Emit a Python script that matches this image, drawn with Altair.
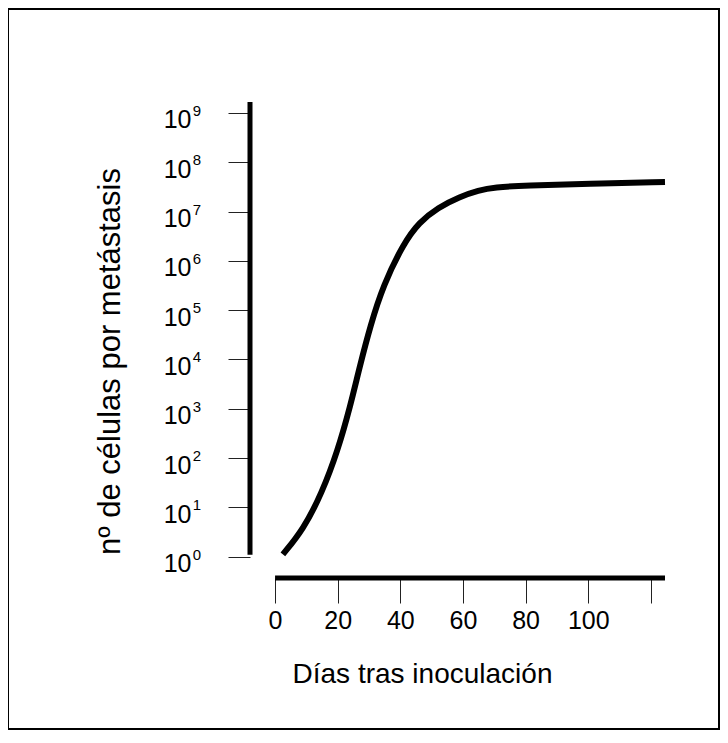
import altair as alt
import pandas as pd

# ---- data ----
days = [2.5, 9, 15, 20, 24, 27, 30.5, 34.5, 41, 46, 52, 59, 65, 70, 80, 100, 124.5]
log_cells = [0.05, 0.55, 1.3, 2.15, 3.05, 3.85, 4.7, 5.5, 6.35, 6.78, 7.08, 7.3, 7.43, 7.49, 7.53, 7.56, 7.6]

x_ticks = [0, 20, 40, 60, 80, 100, 120]
x_tick_labels = ["0", "20", "40", "60", "80", "100", ""]
y_exponents = [0, 1, 2, 3, 4, 5, 6, 7, 8, 9]
y_tick_base = "10"
y_exponent_labels = ["0", "1", "2", "3", "4", "5", "6", "7", "8", "9"]

x_domain = [-8, 124.5]
y_domain_exp = [-0.43, 9.22]
x_axis_line = [0, 124.5]
y_axis_line_exp = [0.04, 9.22]

x_title = "Días tras inoculación"
y_title = "nº de células por metástasis"

FONT = "Liberation Sans"

curve = pd.DataFrame({"day": days, "cells": [10 ** v for v in log_cells]})
y_tick_values = [10 ** e for e in y_exponents]
y_domain = [10 ** y_domain_exp[0], 10 ** y_domain_exp[1]]

xs = alt.Scale(domain=x_domain, nice=False, zero=False)
ys = alt.Scale(type="log", domain=y_domain, nice=False)

x_label_expr = "[" + ",".join(f"'{t}'" for t in x_tick_labels) + "][indexof([" + ",".join(str(v) for v in x_ticks) + "], datum.value)]"
y_label_expr = f"'{y_tick_base}'"

x_axis = alt.Axis(
    values=x_ticks, labelExpr=x_label_expr, domain=False, grid=False,
    tickSize=25, tickWidth=1, tickColor="#222", labelFontSize=25, labelFont=FONT,
    labelColor="black", labelPadding=5, labelFlush=False,
    title=x_title, titleFont=FONT, titleFontSize=28, titleFontWeight="normal",
    titleColor="black", titleX=172, titleY=104, titleBaseline="alphabetic", titleAlign="center")
y_axis = alt.Axis(
    values=y_tick_values, labelExpr=y_label_expr, domain=False, grid=False,
    tickSize=22, tickWidth=1, tickColor="#222", labelFontSize=25, labelFont=FONT,
    labelColor="black", labelPadding=37, labelFlush=False,
    labelBaseline="alphabetic", labelOffset=15,
    title=y_title, titleFont=FONT, titleFontSize=31, titleFontWeight="normal",
    titleColor="black", titleX=-131, titleY=259, titleBaseline="alphabetic",
    titleAlign="center", titleAngle=270)

line = alt.Chart(curve).mark_line(color="black", strokeWidth=6, interpolate="basis").encode(
    x=alt.X("day:Q", scale=xs, axis=x_axis, title=x_title),
    y=alt.Y("cells:Q", scale=ys, axis=y_axis, title=y_title),
)

yline_df = pd.DataFrame({"day": [x_domain[0]], "cells": [10 ** y_axis_line_exp[0]], "cells2": [10 ** y_axis_line_exp[1]]})
yline = alt.Chart(yline_df).mark_rule(color="black", strokeWidth=5).encode(
    x=alt.X("day:Q", scale=xs, axis=x_axis, title=x_title),
    y=alt.Y("cells:Q", scale=ys, axis=y_axis, title=y_title),
    y2="cells2:Q",
)

xline_df = pd.DataFrame({"day": [x_axis_line[0]], "day2": [x_axis_line[1]], "cells": [y_domain[0]]})
xline = alt.Chart(xline_df).mark_rule(color="black", strokeWidth=5).encode(
    x=alt.X("day:Q", scale=xs, axis=x_axis, title=x_title),
    x2="day2:Q",
    y=alt.Y("cells:Q", scale=ys, axis=y_axis, title=y_title),
)

exp_df = pd.DataFrame({"day": [x_domain[0]] * len(y_exponents), "cells": y_tick_values, "exp": y_exponent_labels})
exps = alt.Chart(exp_df).mark_text(
    align="right", baseline="alphabetic", fontSize=15, font=FONT, color="black", dx=-49, dy=3
).encode(
    x=alt.X("day:Q", scale=xs, axis=x_axis, title=x_title),
    y=alt.Y("cells:Q", scale=ys, axis=y_axis, title=y_title),
    text="exp:N",
)

frame = alt.Chart(pd.DataFrame({"k": [0]})).mark_rect(
    fill="white", fillOpacity=0, stroke="black", strokeWidth=2
).encode(
    x=alt.value(-242), x2=alt.value(469), y=alt.value(-93), y2=alt.value(627)
)

chart = alt.layer(line, yline, xline, exps, frame).properties(
    width=415, height=476,
    background="white",
    autosize=alt.AutoSizeParams(type="none"),
    padding={"left": 242, "top": 94, "right": 55, "bottom": 152},
).configure_view(stroke="transparent", strokeWidth=0)

chart.save("out.html", embed_options={"renderer": "svg", "actions": False})
